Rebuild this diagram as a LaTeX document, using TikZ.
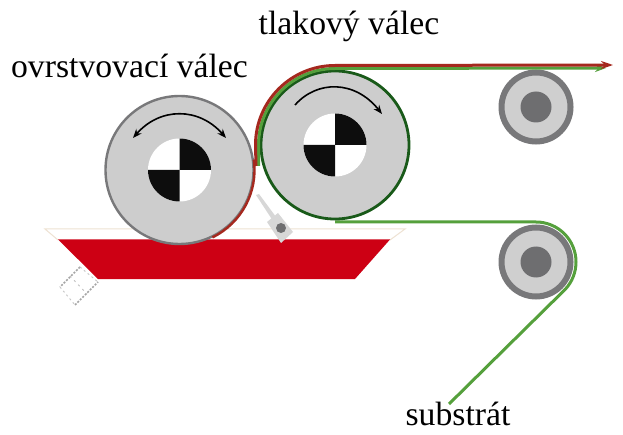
\documentclass[tikz,border=0pt]{standalone}
\usepackage{fontspec}
\setmainfont{Liberation Serif}
\usetikzlibrary{arrows.meta,calc}
\definecolor{rollgray}{RGB}{205,205,205}
\definecolor{rimgray}{RGB}{120,120,122}
\definecolor{darkgray}{RGB}{110,110,112}
\definecolor{inkred}{RGB}{205,0,20}
\definecolor{filmred}{RGB}{165,40,30}
\definecolor{webgreen}{RGB}{85,160,60}
\definecolor{darkgreen}{RGB}{25,90,25}
\definecolor{paleline}{RGB}{238,226,210}
\tikzset{
  lab/.style={font=\fontsize{33.7}{38}\selectfont,text=black,inner sep=0pt,anchor=base},
  bigroll/.style={circle,draw=rimgray,line width=2.4pt,fill=rollgray,minimum size=148pt,inner sep=0pt},
  smallroll/.style={circle,draw=rimgray,line width=6pt,fill=rollgray!95!white,minimum size=69pt,inner sep=0pt},
  hub/.style={circle,fill=darkgray,minimum size=31pt,inner sep=0pt},
  rotarrow/.style={black,line width=1.6pt,-{Stealth[length=9pt,width=7pt]}},
  web/.style={webgreen,line width=3pt},
  film/.style={filmred,line width=3pt}
}
\newcommand{\bwhub}[1]{%
  \fill[white] (#1) circle (31.5pt);
  \fill[black!95] (#1) -- ++(0,31.5) arc[start angle=90,end angle=0,radius=31.5pt] -- cycle;
  \fill[black!95] (#1) -- ++(0,-31.5) arc[start angle=270,end angle=180,radius=31.5pt] -- cycle;
}
\begin{document}
\begin{tikzpicture}[x=1pt,y=1pt]
\useasboundingbox (0,0) rectangle (623,434);
\fill[white] (0,0) rectangle (623,434);
% tray
\draw[paleline,line width=1pt] (58,194) -- (45,205) -- (405,205) -- (390,194);
\fill[inkred] (58,194.5) -- (390,194.5) -- (355,155) -- (98,155) -- cycle;
% plug
\draw[gray!70,dash pattern=on 2pt off 1.5pt,line width=1.6pt] (80,167) -- (60,147);
\draw[gray!70,dash pattern=on 2pt off 1.5pt,line width=1.6pt] (75,129) -- (98,152);
\draw[gray!45,dash pattern=on 2pt off 3pt,line width=.9pt] (60,147) -- (75,129) (80,167) -- (98,152);
\draw[gray!50,dash pattern=on 2pt off 4pt,line width=.8pt] (70,158) -- (87,140);
% small rollers
\node[smallroll] (upper) at (536,327) {};
\node[hub] at (upper) {};
\node[smallroll] (lower) at (536,172) {};
\node[hub] at (lower) {};
% coating roller
\node[bigroll] (coat) at (179.5,264) {};
\draw[filmred,line width=2.4pt] (coat.center) ++(-64:75) arc[start angle=-64,end angle=8,radius=75pt];
% scraper
\fill[rollgray!80!white] (256,239) -- (259,240) -- (279,213) -- (275,210) -- cycle;
\fill[rollgray!80!white] (267,212) -- (278,221) -- (293,202) -- (281,191) -- cycle;
\node[circle,fill=darkgray,minimum size=10pt,inner sep=0pt] (pivot) at (281,206) {};
% films
\coordinate (lowerin) at (335,212);
\coordinate (lowertop) at (536,212);
\coordinate (lowerout) at (449,30);
\coordinate (webend) at (606,366);
\coordinate (filmend) at (613,369);
\draw[web] (lowerin) -- (lowertop) arc[start angle=90,end angle=-43,radius=40pt] -- (lowerout);
% pressure roller
\node[bigroll,draw=darkgreen,line width=2.8pt] (press) at (335,289) {};
\draw[web,-{Stealth[length=11pt,width=8pt]}] (258.5,268) -- (258.5,289) arc[start angle=180,end angle=90,radius=76.5pt] -- (webend);
\draw[film,-{Stealth[length=12pt,width=8pt]}] (256,268) -- (255.5,289) arc[start angle=180,end angle=90,radius=79.5pt] -- (filmend);
% hubs
\bwhub{coat.center}
\bwhub{press.center}
% rotation arrows
\draw[rotarrow,{Stealth[length=9pt,width=7pt]}-{Stealth[length=9pt,width=7pt]}] (133,296) .. controls (160,327) and (199,327) .. (226,296);
\draw[rotarrow] (295,329) .. controls (317,354) and (355,354) .. (382,320);
% labels
\node[lab] (l1) at (129.5,356) {ovrstvovací válec};
\node[lab] (l2) at (349,399) {tlakový válec};
\node[lab] (l3) at (458,9) {substrát};
\end{tikzpicture}
\end{document}
